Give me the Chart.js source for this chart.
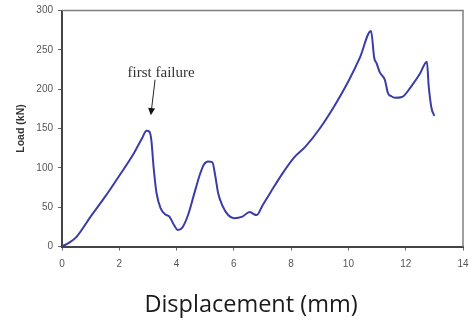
<!DOCTYPE html>
<html>
<head>
<meta charset="utf-8">
<script src="https://cdn.jsdelivr.net/npm/chart.js@4"></script>
<style>
  html, body { margin: 0; padding: 0; background: #fff; }
  #grafico { display: block; }
</style>
</head>
<body>
<canvas id="grafico" width="472" height="320"></canvas>
<script>
// displacement (mm) and load (kN)
const deslocamento = [0, 0.25, 0.5, 1, 1.5, 2, 2.5, 2.8, 2.95, 3.05, 3.12,
  3.2, 3.3, 3.45, 3.6, 3.75, 3.9, 4.05, 4.2, 4.4, 4.6, 4.8, 4.95, 5.1, 5.25,
  5.35, 5.45, 5.6, 5.8, 6.0, 6.3, 6.55, 6.7, 6.8, 7.0, 7.3, 7.7, 8.1, 8.5,
  9.0, 9.5, 10.0, 10.4, 10.79, 10.9, 10.98, 11.1, 11.27, 11.38, 11.5, 11.62,
  11.87, 12.2, 12.5, 12.74, 12.8, 12.9, 13.0];
const carga = [0, 5, 12, 38, 63, 90, 118, 138, 147, 146, 135,
  100, 68, 48, 41, 38, 28, 21, 24, 40, 65, 90, 104, 108, 107,
  90, 68, 52, 40, 36, 38, 44, 41, 40, 52, 70, 93, 113, 127,
  150, 178, 210, 240, 274, 240, 233, 221, 212, 195, 191, 189,
  190, 204, 220, 235, 205, 176, 166];

const ticksX = [0, 2, 4, 6, 8, 10, 12, 14];
const ticksY = [0, 50, 100, 150, 200, 250, 300];

const anotacao = { texto: 'first failure', x: 3.46, y: 221, setaDe: [3.25, 212], setaAte: [3.1, 167] };

const pontos = deslocamento.map((d, i) => ({ x: d, y: carga[i] }));

const extras = {
  id: 'extras',
  afterDraw(chart) {
    const { ctx, chartArea: a, scales } = chart;
    ctx.save();
    // top and right frame
    ctx.strokeStyle = '#808080';
    ctx.lineWidth = 1.5;
    ctx.beginPath();
    ctx.moveTo(a.left, a.top);
    ctx.lineTo(a.right, a.top);
    ctx.lineTo(a.right, a.bottom);
    ctx.stroke();

    // annotation
    const px = scales.x.getPixelForValue(anotacao.x);
    const py = scales.y.getPixelForValue(anotacao.y);
    ctx.fillStyle = '#333';
    ctx.font = '15px "Liberation Serif"';
    ctx.textAlign = 'center';
    ctx.textBaseline = 'middle';
    ctx.fillText(anotacao.texto, px, py);

    const x1 = scales.x.getPixelForValue(anotacao.setaDe[0]);
    const y1 = scales.y.getPixelForValue(anotacao.setaDe[1]);
    const x2 = scales.x.getPixelForValue(anotacao.setaAte[0]);
    const y2 = scales.y.getPixelForValue(anotacao.setaAte[1]);
    const ang = Math.atan2(y2 - y1, x2 - x1);
    ctx.strokeStyle = '#222';
    ctx.lineWidth = 1;
    ctx.beginPath();
    ctx.moveTo(x1, y1);
    ctx.lineTo(x2 - 6 * Math.cos(ang), y2 - 6 * Math.sin(ang));
    ctx.stroke();
    ctx.fillStyle = '#111';
    ctx.beginPath();
    ctx.moveTo(x2, y2);
    ctx.lineTo(x2 - 7 * Math.cos(ang) + 3.5 * Math.sin(ang), y2 - 7 * Math.sin(ang) - 3.5 * Math.cos(ang));
    ctx.lineTo(x2 - 7 * Math.cos(ang) - 3.5 * Math.sin(ang), y2 - 7 * Math.sin(ang) + 3.5 * Math.cos(ang));
    ctx.closePath();
    ctx.fill();

    // y title
    ctx.save();
    ctx.translate(21, (a.top + a.bottom) / 2);
    ctx.rotate(-Math.PI / 2);
    ctx.fillStyle = '#333';
    ctx.font = 'bold 10.5px "Liberation Sans"';
    ctx.fillText('Load (kN)', 0, 0);
    ctx.restore();

    // x title
    ctx.fillStyle = '#1a1a1a';
    ctx.font = '23.5px "Open Sans"';
    ctx.fillText('Displacement (mm)', 251, 305);
    ctx.restore();
  }
};

const grafico = new Chart(document.getElementById('grafico').getContext('2d'), {
  type: 'scatter',
  data: {
    datasets: [{
      data: pontos,
      showLine: true,
      borderColor: '#3b3ca6',
      borderWidth: 2,
      pointRadius: 0,
      cubicInterpolationMode: 'monotone',
      fill: false
    }]
  },
  options: {
    responsive: false,
    animation: false,
    devicePixelRatio: 1,
    layout: { padding: { left: 0, top: 10.5, right: 9, bottom: 0 } },
    plugins: { legend: { display: false }, tooltip: { enabled: false } },
    scales: {
      x: {
        type: 'linear',
        min: 0,
        max: 14,
        afterFit: s => { s.height = 73.5; s.paddingLeft = 0; s.paddingRight = 0; },
        afterBuildTicks: s => { s.ticks = ticksX.map(v => ({ value: v })); },
        ticks: { color: '#555', font: { size: 10, family: 'Liberation Sans' }, padding: 8, maxRotation: 0 },
        grid: { drawOnChartArea: false, drawTicks: true, tickLength: 4, color: '#666' },
        border: { display: true, color: '#444', width: 2 }
      },
      y: {
        min: 0,
        max: 300,
        afterFit: s => { s.width = 62; s.paddingTop = 0; s.paddingBottom = 0; },
        afterBuildTicks: s => { s.ticks = ticksY.map(v => ({ value: v })); },
        ticks: { color: '#555', font: { size: 10, family: 'Liberation Sans' }, padding: 5 },
        grid: { drawOnChartArea: false, drawTicks: true, tickLength: 4, color: '#666' },
        border: { display: true, color: '#444', width: 2 }
      }
    }
  },
  plugins: [extras]
});
</script>
</body>
</html>
